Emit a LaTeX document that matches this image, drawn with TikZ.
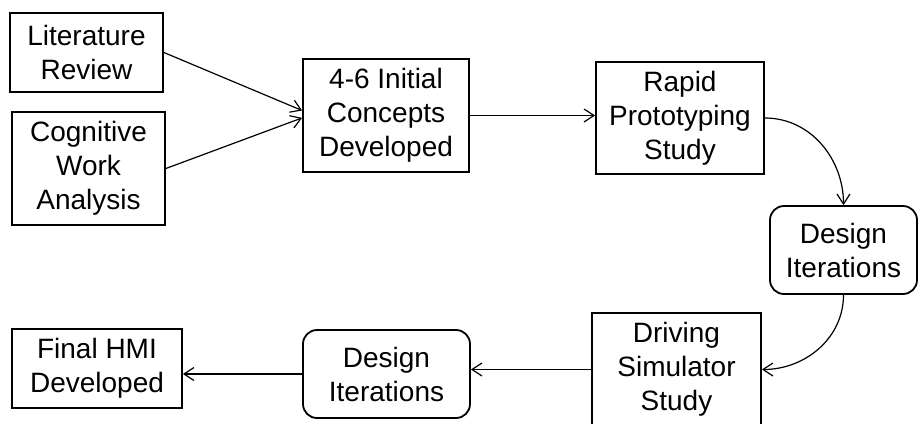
\documentclass[tikz,border=0pt]{standalone}
\usepackage{fontspec}
\setmainfont{Liberation Sans}
\usetikzlibrary{arrows.meta}
\begin{document}
\begin{tikzpicture}[x=0.5pt,y=-0.5pt,
  box/.style={draw, line width=0.9pt, align=center, inner sep=0pt,
              font=\fontsize{14}{17}\selectfont},
  rbox/.style={box, rounded corners=7pt},
  link/.style={line width=0.6pt, -{Straight Barb[length=5pt,width=6.5pt]}}]
\useasboundingbox (0,0) rectangle (918,424);
% process steps
\node[box, minimum width=76.5pt, minimum height=39.5pt] (lit) at (86.5,52.5) {Literature\\Review};
\node[box, minimum width=76.5pt, minimum height=56.5pt] (cog) at (88.5,168.5) {Cognitive\\Work\\Analysis};
\node[box, minimum width=83pt, minimum height=56.5pt] (init) at (386,115.5) {4-6 Initial\\Concepts\\Developed};
\node[box, minimum width=84pt, minimum height=56pt] (rapid) at (680,118) {Rapid\\Prototyping\\Study};
\node[rbox, minimum width=73.5pt, minimum height=44pt] (desA) at (843.5,250) {Design\\Iterations};
\node[box, minimum width=84.5pt, minimum height=56.5pt] (drive) at (676.5,369.5) {Driving\\Simulator\\Study};
\node[rbox, minimum width=83.5pt, minimum height=44pt] (desB) at (386.5,374) {Design\\Iterations};
\node[box, minimum width=85pt, minimum height=39.5pt] (final) at (97,368.5) {Final HMI\\Developed};
% connectors
\draw[link] (lit.east) -- ([yshift=2.5pt]init.west);
\draw[link] (cog.east) -- ([yshift=-1.2pt]init.west);
\draw[link] (init.east) -- (init.east -| rapid.west);
\draw[link] (rapid.east) to[out=0, in=90] (desA.north);
\draw[link] (desA.south) to[out=-90, in=0] (drive.east);
\draw[link] (drive.west) -- (drive.west -| desB.east);
\draw[link] (desB.west) -- (desB.west -| final.east);
\end{tikzpicture}
\end{document}
